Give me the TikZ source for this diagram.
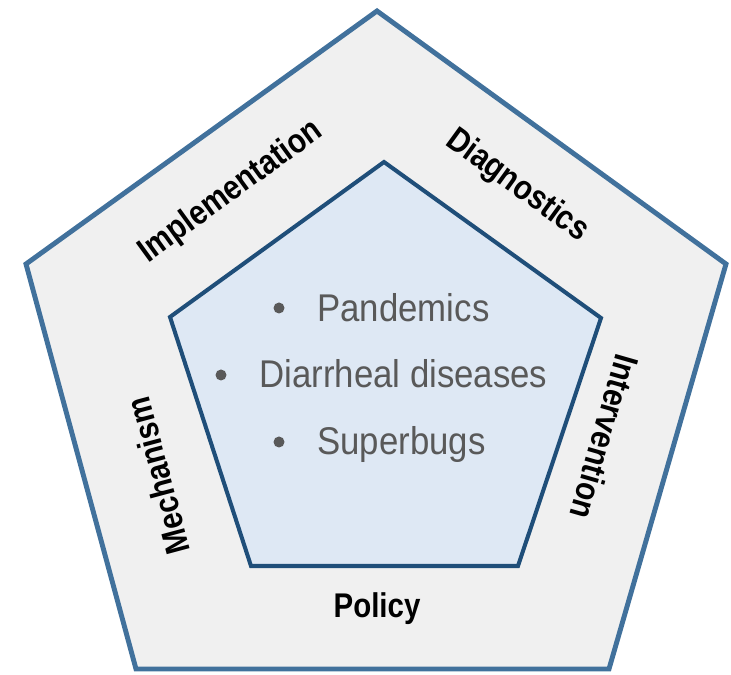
\documentclass[tikz,border=0pt]{standalone}
\usepackage{fontspec}
\setmainfont{Liberation Sans}
\newfontfamily\narrowfont[FakeStretch=0.9]{Liberation Sans}
\newfontfamily\narrowbold[FakeStretch=0.86]{Liberation Sans Bold}

\definecolor{outerline}{HTML}{41719C}
\definecolor{outerfill}{HTML}{F0F0F0}
\definecolor{innerline}{HTML}{1F4E79}
\definecolor{innerfill}{HTML}{DEE8F4}
\definecolor{itemgray}{HTML}{595959}

\begin{document}
\begin{tikzpicture}[x=0.02cm,y=-0.02cm,
    sidelab/.style={font=\narrowbold\fontsize{19.5}{22}\selectfont, inner sep=0pt},
    itemtxt/.style={font=\narrowfont\fontsize{22}{26}\selectfont, text=itemgray, inner sep=0pt, anchor=base west},
    dot/.style={circle, fill=itemgray, inner sep=0pt, minimum size=0.22cm}]

            \useasboundingbox (0,0) rectangle (731,675);

            % Outer pentagon
            \draw[outerline, fill=outerfill, line width=2.8pt]
                (377,11) -- (726,264) -- (609,669) -- (136,669) -- (26,264) -- cycle;

            % Inner pentagon
            \draw[innerline, fill=innerfill, line width=2.3pt]
                (384,162) -- (601,318) -- (518,566) -- (251,566) -- (170,317) -- cycle;

            % Bullet list in the middle
            \foreach \i/\bx/\by/\tx/\ty/\txt in {
            1/279/308/317/322/Pandemics,
            2/221/375/259/388/Diarrheal diseases,
            3/279/442/317/455/Superbugs} {
            \node [dot] (dot\i) at (\bx,\by) {};
            \node [itemtxt] (item\i) at (\tx,\ty) {\txt};
            }

            % Labels along the sides
            \foreach \i/\x/\y/\ang/\lab in {
            1/231/192/36/Implementation,
            2/517/186/-36/Diagnostics,
            3/605/437/-106/Intervention,
            4/158/476/105/Mechanism} {
            \node [sidelab, rotate=\ang] (side\i) at (\x,\y) {\lab};
            }
            \node [sidelab, anchor=base] (side5) at (377,618) {Policy};

        \end{tikzpicture}
\end{document}
